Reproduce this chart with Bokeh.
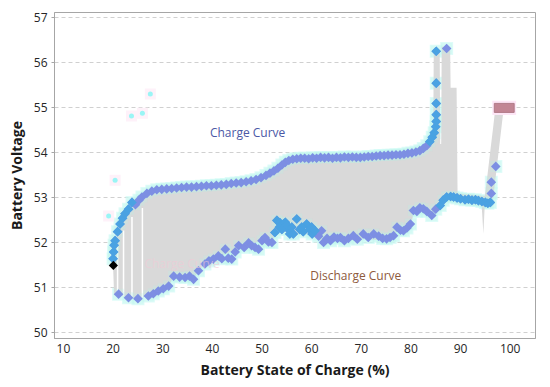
import numpy as np
from bokeh.plotting import figure
from bokeh.models import Range1d, FixedTicker, Label
from bokeh.embed import file_html
from bokeh.resources import INLINE

# ---- data ----
charge_soc = [20.0, 20.1, 20.2, 20.4, 20.9, 21.4, 21.9, 22.4, 23.1, 23.8, 24.5, 25.2, 25.8,
              26.8, 27.8, 28.8, 29.8, 30.8, 31.8, 32.8, 33.8, 34.8, 35.8, 36.8, 37.8, 38.8,
              39.8, 40.8, 41.8, 42.8, 43.8, 44.8, 45.8, 46.8, 47.8, 48.8, 49.8, 50.8, 51.6,
              52.4, 53.2, 54.0, 54.7, 55.4, 56.2, 57.0, 57.8, 58.6, 59.4, 60.2, 61.0, 61.8,
              62.6, 63.4, 64.2, 65.0, 65.8, 66.6, 67.4, 68.2, 69.0, 69.8, 70.6, 71.4, 72.2,
              73.0, 73.8, 74.6, 75.4, 76.2, 77.0, 77.8, 78.6, 79.4, 80.2, 81.0, 81.8, 82.5,
              83.2, 83.8, 84.3, 84.7, 85.0, 85.1, 85.1, 85.1, 85.1, 85.1, 87.2]
charge_v = [51.65, 51.8, 51.95, 52.05, 52.25, 52.42, 52.55, 52.65, 52.75, 52.9, 52.85, 52.95, 53.02,
            53.1, 53.15, 53.18, 53.19, 53.2, 53.21, 53.22, 53.23, 53.24, 53.24, 53.25, 53.26, 53.27,
            53.27, 53.28, 53.29, 53.3, 53.32, 53.33, 53.34, 53.36, 53.38, 53.41, 53.45, 53.5, 53.55,
            53.6, 53.66, 53.73, 53.79, 53.83, 53.86, 53.87, 53.88, 53.88, 53.87, 53.89, 53.88, 53.9,
            53.89, 53.9, 53.88, 53.9, 53.89, 53.91, 53.9, 53.91, 53.9, 53.9, 53.91, 53.92, 53.92,
            53.93, 53.94, 53.94, 53.95, 53.95, 53.96, 53.96, 53.97, 53.99, 54.0, 54.02, 54.05, 54.1,
            54.16, 54.25, 54.35, 54.45, 54.58, 54.7, 54.85, 55.1, 55.55, 56.26, 56.32]

discharge_soc = [21.1, 23.1, 25.0, 27.1, 28.1, 29.1, 30.1, 31.2, 32.2, 33.4, 34.5, 35.4, 36.2,
                 37.2, 38.5, 39.3, 40.2, 41.2, 41.9, 42.6, 43.2, 43.9, 44.6, 45.3, 46.4, 47.3,
                 47.9, 48.6, 49.3, 50.0, 50.6, 51.3, 52.0, 52.6, 53.0, 53.6, 54.3, 54.7, 55.3,
                 55.6, 56.3, 57.0, 57.6, 58.3, 59.0, 59.6, 60.1, 60.7, 61.4, 62.0, 62.4, 63.1,
                 63.8, 64.5, 65.2, 65.8, 66.6, 67.4, 68.4, 69.2, 70.4, 71.4, 72.5, 73.5, 74.3,
                 75.1, 75.8, 76.5, 77.2, 77.9, 78.5, 79.2, 79.9, 80.5, 81.2, 81.8, 82.5, 83.2,
                 84.2, 85.0, 85.9, 86.5, 87.2, 88.0, 88.6, 89.3, 90.0, 90.9, 91.6, 92.3, 93.0,
                 93.6, 94.3, 95.0, 95.5, 96.0, 53.5, 54.0, 55.0, 56.0, 58.0, 60.0, 96.2, 96.2, 97.1]
discharge_v = [50.86, 50.78, 50.76, 50.82, 50.87, 50.93, 50.98, 51.04, 51.26, 51.24, 51.23, 51.26, 51.19,
               51.38, 51.53, 51.6, 51.64, 51.71, 51.65, 51.86, 51.66, 51.64, 51.8, 51.94, 51.9, 52.0,
               51.94, 51.9, 51.86, 52.05, 52.12, 52.02, 52.01, 52.23, 52.5, 52.45, 52.42, 52.46, 52.3,
               52.2, 52.2, 52.53, 52.3, 52.25, 52.42, 52.3, 52.2, 52.27, 52.15, 52.27, 52.01, 52.1,
               52.05, 52.13, 52.1, 52.12, 52.05, 52.1, 52.16, 52.08, 52.2, 52.12, 52.2, 52.15, 52.1,
               52.09, 52.12, 52.16, 52.35, 52.28, 52.27, 52.33, 52.42, 52.72, 52.7, 52.78, 52.76, 52.7,
               52.61, 52.75, 52.83, 52.95, 53.02, 53.03, 53.02, 53.0, 52.98, 52.96, 52.97, 52.95, 52.96,
               52.94, 52.92, 52.9, 52.88, 52.9, 52.35, 52.3, 52.4, 52.35, 52.35, 52.35, 53.1, 53.35, 53.7]

# gray envelope between the two curves
band_soc = [19.8, 20.0, 20.2, 21.1, 23.1, 25.0, 27.1, 29.1, 31.2, 32.2, 34.5, 36.2, 37.2, 38.5,
            40.2, 42.6, 45.3, 47.3, 50.0, 52.0, 53.0, 55.3, 56.5, 60.0, 62.4, 65.8, 70.0, 75.1,
            77.2, 79.9, 80.5, 82.5, 84.2, 84.5, 84.6, 85.8, 85.9, 86.1, 86.2, 87.9, 88.0, 89.2,
            89.4, 94.2, 94.6, 94.9, 95.3, 96.0, 96.6, 97.0, 98.7]
band_low = [51.45, 51.45, 50.85, 50.85, 50.78, 50.76, 50.82, 50.93, 51.04, 51.26, 51.23, 51.19, 51.38, 51.53,
            51.64, 51.75, 51.88, 51.95, 52.05, 52.01, 52.3, 52.25, 52.2, 52.2, 52.01, 52.05, 52.1, 52.05,
            52.25, 52.35, 52.65, 52.7, 52.55, 52.6, 52.65, 52.75, 52.8, 52.85, 52.9, 52.97, 52.98, 53.0,
            52.97, 52.93, 52.2, 52.9, 52.95, 52.95, 53.0, 53.39, 55.0]
band_high = [51.6, 51.7, 51.95, 52.3, 52.75, 52.95, 53.12, 53.2, 53.22, 53.23, 53.24, 53.25, 53.26, 53.27,
             53.28, 53.31, 53.34, 53.38, 53.47, 53.58, 53.64, 53.8, 53.86, 53.88, 53.9, 53.9, 53.9, 53.95,
             53.96, 54.0, 54.01, 54.12, 54.35, 54.45, 56.26, 56.26, 54.2, 54.2, 56.36, 56.36, 55.45, 55.45,
             53.1, 53.05, 53.05, 53.05, 53.39, 54.05, 54.6, 55.0, 55.0]

gap_soc = [20.9, 22.1, 23.8, 25.9]          # thin white gaps in the left strips
ghost_soc = [20.4, 23.7, 25.9, 27.5, 19.1]   # faint cyan stray points
ghost_v = [53.39, 54.82, 54.88, 55.31, 52.6]
end_soc = [98.8]                              # end-of-charge marker
end_v = [55.0]
start_soc = [20.05]                           # starting point
start_v = [51.5]

x_ticks = [10, 20, 30, 40, 50, 60, 70, 80, 90, 100]
y_ticks = [50, 51, 52, 53, 54, 55, 56, 57]

FONT = "Open Sans"

p = figure(width=540, height=381, output_backend="svg", toolbar_location=None,
           x_range=Range1d(8.19, 105.1), y_range=Range1d(49.875, 57.12),
           min_border_left=54, min_border_right=5, min_border_top=12, min_border_bottom=42)

p.outline_line_color = "#a6a6a6"
p.outline_line_width = 1
p.background_fill_color = "white"
p.border_fill_color = "white"

p.xgrid.grid_line_color = None
p.ygrid.grid_line_color = "#d0d0d0"
p.ygrid.grid_line_dash = "4 3"
p.ygrid.ticker = FixedTicker(ticks=y_ticks)

p.xaxis.ticker = FixedTicker(ticks=x_ticks)
p.yaxis.ticker = FixedTicker(ticks=y_ticks)
for ax in (p.xaxis, p.yaxis):
    ax.axis_line_color = "#a6a6a6"
    ax.major_tick_line_color = "#a6a6a6"
    ax.minor_tick_line_color = None
    ax.major_tick_in = 0
    ax.major_label_text_font = FONT
    ax.major_label_text_font_size = "12px"
    ax.major_label_text_color = "#262626"
    ax.axis_label_text_font = FONT
    ax.axis_label_text_font_style = "bold"
    ax.axis_label_text_font_size = "14px"
    ax.axis_label_text_color = "#1a1a1a"
p.xaxis.major_tick_out = 0
p.yaxis.major_tick_out = 3
p.xaxis.major_label_standoff = 5
p.yaxis.major_label_standoff = 4
p.xaxis.axis_label_standoff = 4
p.yaxis.axis_label_standoff = 5
p.xaxis.axis_label = "Battery State of Charge (%)"
p.yaxis.axis_label = "Battery Voltage"

# faint cyan halo behind the curves
p.scatter(charge_soc, charge_v, marker="square", size=13, fill_color="#d2fbf6",
          line_color=None, fill_alpha=0.7)
p.scatter(discharge_soc, discharge_v, marker="square", size=13, fill_color="#d2fbf6",
          line_color=None, fill_alpha=0.7)

# gray envelope
p.varea(x=band_soc, y1=band_low, y2=band_high, fill_color="#d9d9d9")

gap_low = np.interp(gap_soc, band_soc, band_low)
gap_high = np.interp(gap_soc, band_soc, band_high) - 0.25
p.segment(x0=gap_soc, y0=gap_low, x1=gap_soc, y1=gap_high, line_color="white", line_width=1.5)

# faint mint tint over the gray near the curves
p.scatter(charge_soc, charge_v, marker="square", size=11, fill_color="#b8f5e8",
          line_color=None, fill_alpha=0.25)
p.scatter(discharge_soc, discharge_v, marker="square", size=11, fill_color="#b8f5e8",
          line_color=None, fill_alpha=0.25)

# ghost artefacts
p.scatter(ghost_soc, ghost_v, marker="square", size=11, fill_color="#fef1f9", line_color=None)
p.scatter(ghost_soc, ghost_v, marker="circle", size=5, fill_color="#9af5f5", line_color=None)
p.add_layout(Label(x=26.3, y=51.55, text="Charge Curve", text_font=FONT, text_font_size="12px",
                   text_color="#f2c9d6", text_alpha=0.6, text_baseline="middle"))

# end marker
p.rect(x=end_soc, y=end_v, width=4.8, height=0.32, fill_color="#fde6f6", line_color=None)
p.rect(x=end_soc, y=end_v, width=4.0, height=0.2, fill_color="#c28594", line_color="#b07a88")

# blue diamonds
blue1 = "#7d8fe3"
blue2 = "#4aa2e2"
cs = np.array(charge_soc); cv = np.array(charge_v)
ds = np.array(discharge_soc); dv = np.array(discharge_v)
p.scatter(cs, cv, marker="square", angle=np.pi / 4, size=6.8, fill_color=blue1, line_color=None)
m1 = (cs < 24.5) | ((cs > 83.5) & (cs < 86))
p.scatter(cs[m1], cv[m1], marker="square", angle=np.pi / 4, size=6.8, fill_color=blue2, line_color=None)
p.scatter(ds, dv, marker="square", angle=np.pi / 4, size=6.8, fill_color=blue1, line_color=None)
m2 = ((ds > 52.5) & (ds < 62) & (dv > 52.15)) | ((ds > 85.5) & (ds < 96.1))
p.scatter(ds[m2], dv[m2], marker="square", angle=np.pi / 4, size=6.8, fill_color=blue2, line_color=None)

# start point
p.scatter(start_soc, start_v, marker="square", angle=np.pi / 4, size=6.5, fill_color="black",
          line_color=None)

# annotations
p.add_layout(Label(x=47.1, y=54.45, text="Charge Curve", text_font=FONT, text_font_size="12px",
                   text_color="#4b58a6", text_align="center", text_baseline="middle"))
p.add_layout(Label(x=68.9, y=51.27, text="Discharge Curve", text_font=FONT, text_font_size="12px",
                   text_color="#8e5a3d", text_align="center", text_baseline="middle"))

open("out.html", "w").write(file_html(p, INLINE))
